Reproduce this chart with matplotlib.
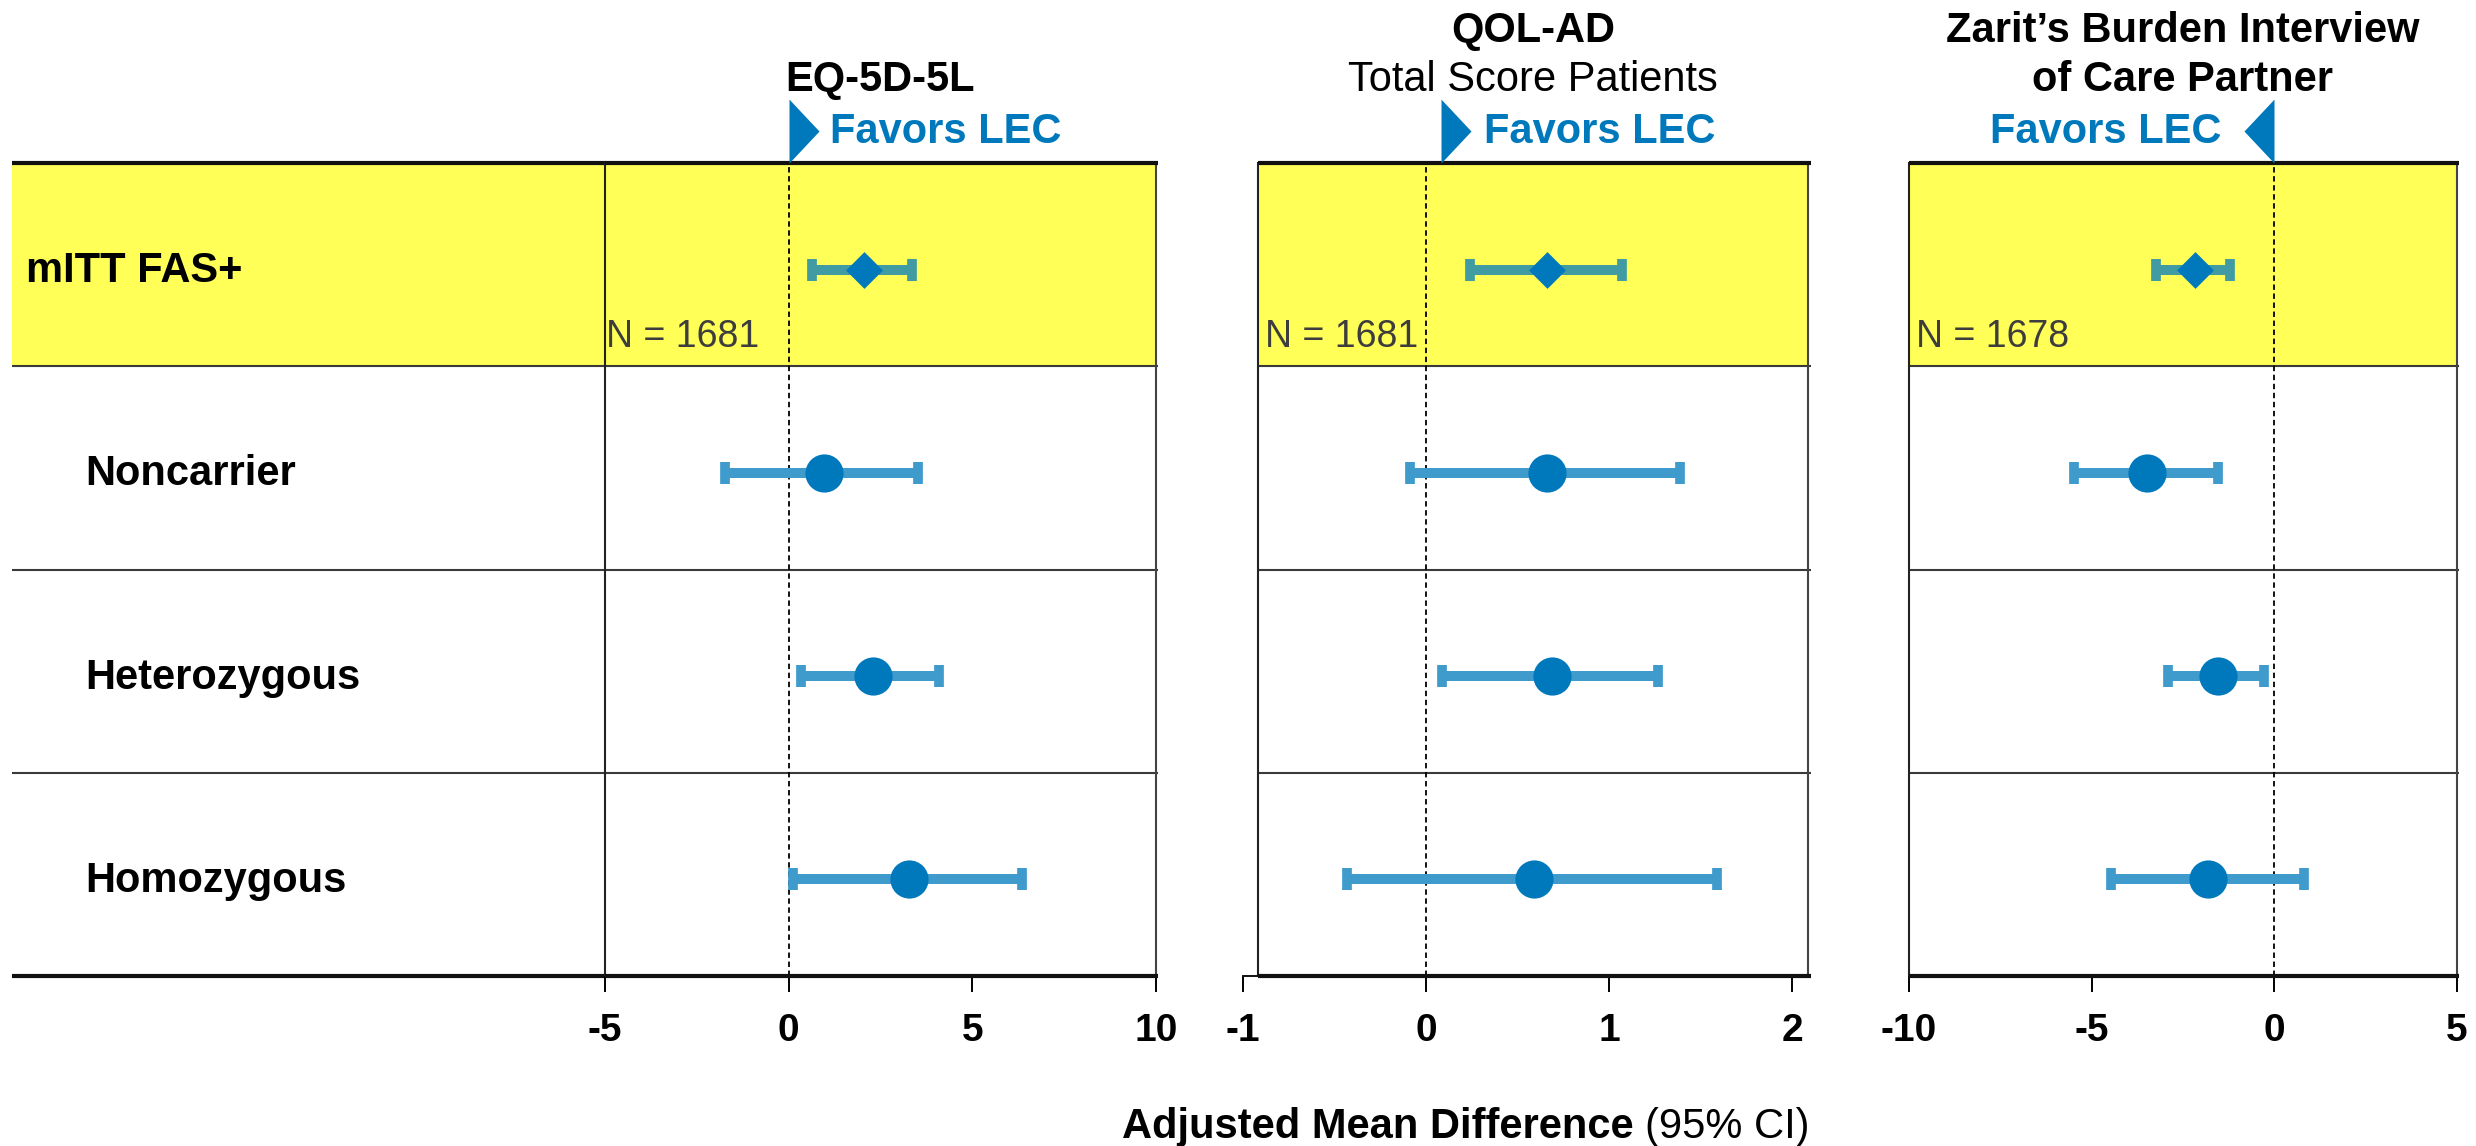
import matplotlib
matplotlib.use("Agg")
import matplotlib.pyplot as plt

plt.rcParams['font.family'] = ['Liberation Sans', 'DejaVu Sans']

# ---------------- data ----------------
row_labels = ["mITT FAS+", "Noncarrier", "Heterozygous", "Homozygous"]

eq_est = [2.05, 0.95, 2.30, 3.28]
eq_lo = [0.63, -1.72, 0.33, 0.11]
eq_hi = [3.35, 3.52, 4.10, 6.34]

qol_est = [0.66, 0.66, 0.69, 0.59]
qol_lo = [0.24, -0.09, 0.09, -0.43]
qol_hi = [1.07, 1.39, 1.27, 1.59]

zbi_est = [-2.18, -3.49, -1.53, -1.81]
zbi_lo = [-3.24, -5.47, -2.90, -4.48]
zbi_hi = [-1.21, -1.53, -0.27, 0.82]

n_labels = ["N = 1681", "N = 1681", "N = 1678"]

xticks = [[-5, 0, 5, 10], [-1, 0, 1, 2], [-10, -5, 0, 5]]
title_lines = [
    [("EQ-5D-5L", "bold")],
    [("QOL-AD", "bold"), ("Total Score Patients", "normal")],
    [("Zarit\u2019s Burden Interview", "bold"), ("of Care Partner", "bold")],
]
favors_label = "Favors LEC"
favors_dir = [1, 1, -1]
xlabel_bold = "Adjusted Mean Difference"
xlabel_normal = "(95% CI)"

# ---------------- style ----------------
BLUE = "#0079BC"
EB_WHITE = "#409BCD"
EB_YELLOW = "#409BA3"
YELLOW = "#FFFF57"
W, H = 2476, 1146

fig = plt.figure(figsize=(W / 100, H / 100), dpi=100)


def fx(px):
    return px / W


top_px, bot_px = 163, 976
ax_y0 = 1 - bot_px / H
ax_h = (bot_px - top_px) / H

panels = [
    dict(est=eq_est, lo=eq_lo, hi=eq_hi, xlim=(-5, 10), border=(-5, 10), px=(605, 1156),
         arrow_x=0.0, n_off=1, fav_off=30),
    dict(est=qol_est, lo=qol_lo, hi=qol_hi, xlim=(-1, 2.09), border=(-0.92, 2.09), px=(1243, 1808.5),
         arrow_x=0.08, n_off=7, fav_off=31),
    dict(est=zbi_est, lo=zbi_lo, hi=zbi_hi, xlim=(-10, 5), border=(-10, 5), px=(1909, 2457),
         arrow_x=0.0, n_off=7, fav_off=-38),
]

row_y = [3.5 - i for i in range(len(row_labels))]
mark_y = [y - 0.025 for y in row_y]

# ---------- label column ----------
axl = fig.add_axes([fx(12), ax_y0, fx(605) - fx(12), ax_h])
axl.set_xlim(0, 1)
axl.set_ylim(0, 4)
axl.axis("off")
axl.axhspan(3, 4, color=YELLOW, zorder=0, lw=0)
for yy in [1, 2, 3]:
    axl.plot([0, 1], [yy, yy], color="#3a3a3a", lw=1.5, clip_on=False, solid_capstyle="butt")
for yy in [0, 4]:
    axl.plot([0, 1], [yy, yy], color="#111111", lw=3, clip_on=False, solid_capstyle="butt")
for i, lab in enumerate(row_labels):
    xoff = 0.024 if i == 0 else 0.123
    axl.text(xoff, row_y[i] - 0.01, lab, fontsize=30, fontweight="bold", va="center_baseline",
             ha="left", color="black")

tri_right = [(0, 0), (0, 2), (0.94, 1), (0, 0)]
tri_left = [(0, 0), (0, 2), (-0.94, 1), (0, 0)]
diamond = [(0, 1), (1, 0), (0, -1), (-1, 0), (0, 1)]

for p_i, p in enumerate(panels):
    l_px, r_px = p["px"]
    ax = fig.add_axes([fx(l_px), ax_y0, (r_px - l_px) / W, ax_h])
    ax.set_xlim(*p["xlim"])
    ax.set_ylim(0, 4)
    for s in ax.spines.values():
        s.set_visible(False)
    ax.set_facecolor("none")
    xl, xr = p["border"]
    span = p["xlim"][1] - p["xlim"][0]
    fl = (xl - p["xlim"][0]) / span
    fr = (xr - p["xlim"][0]) / span
    ax.axhspan(3, 4, xmin=fl, xmax=fr, color=YELLOW, zorder=0, lw=0)
    ext = 0.004 * span
    for yy in [1, 2, 3]:
        ax.plot([xl, xr + ext], [yy, yy], color="#3a3a3a", lw=1.5, clip_on=False,
                solid_capstyle="butt", zorder=1)
    for yy in [0, 4]:
        ax.plot([xl, xr + ext], [yy, yy], color="#111111", lw=3, clip_on=False,
                solid_capstyle="butt", zorder=2)
    if p_i == 1:
        ax.plot([p["xlim"][0], xl], [0, 0], color="#111111", lw=1.4, clip_on=False)
    ax.plot([xl, xl], [0, 4], color="#222222", lw=1.5, clip_on=False, zorder=1)
    ax.plot([xr, xr], [0, 4], color="#444444", lw=1.5, clip_on=False, zorder=1)
    ax.axvline(0, color="black", lw=1.3, dashes=(3, 2), zorder=1)

    ax.set_yticks([])
    ax.set_xticks(xticks[p_i])
    ax.set_xticklabels([str(t) for t in xticks[p_i]], fontsize=28, fontweight="bold")
    ax.tick_params(axis="x", direction="out", length=11.5, width=1.4, pad=15, color="black")

    # error bars and markers
    for i in range(len(row_labels)):
        e, lo, hi = p["est"][i], p["lo"][i], p["hi"][i]
        col = EB_YELLOW if i == 0 else EB_WHITE
        ax.errorbar([e], [mark_y[i]], xerr=[[e - lo], [hi - e]], fmt="none", ecolor=col,
                    elinewidth=7.2, capsize=8.2, capthick=7.0, zorder=3)
    ax.plot(p["est"][1:], mark_y[1:], linestyle="none", marker="o", ms=27.5, color=BLUE,
            mew=0, zorder=4)
    ax.plot(p["est"][:1], mark_y[:1], linestyle="none", marker=diamond, ms=26.5, color=BLUE,
            mew=0, zorder=4)

    # N label
    ax.annotate(n_labels[p_i], xy=(xl, 3.162), xytext=(p["n_off"] * 0.72, 0),
                textcoords="offset points", fontsize=27, color="#3d3d3d",
                va="center_baseline", ha="left")

    # favors arrow + text
    d = favors_dir[p_i]
    ax.plot([p["arrow_x"]], [4], linestyle="none", marker=tri_right if d > 0 else tri_left,
            ms=92, color=BLUE, mew=0, clip_on=False, zorder=5)
    ax.annotate(favors_label, xy=(p["arrow_x"], 4), xytext=(p["fav_off"], 14.4),
                textcoords="offset points", fontsize=30, fontweight="bold", color=BLUE,
                va="baseline", ha="left" if d > 0 else "right", annotation_clip=False)

    # titles
    cx = (xl + xr) / 2
    lines = title_lines[p_i]
    offs = [51.5, 87.0]
    for k, (txt, wt) in enumerate(reversed(lines)):
        ax.annotate(txt, xy=(cx, 1), xycoords=("data", "axes fraction"),
                    xytext=(0, offs[k]), textcoords="offset points", fontsize=30,
                    fontweight=wt, ha="center", va="baseline", annotation_clip=False)

# x label (bold part + regular part)
t1 = fig.text(fx(1122), 1 - 1138 / H, xlabel_bold, fontsize=30, fontweight="bold",
              ha="left", va="baseline")
fig.canvas.draw()
bb = t1.get_window_extent()
fig.text((bb.x1 + 11.6) / W, 1 - 1138 / H, xlabel_normal, fontsize=30, ha="left",
         va="baseline")

fig.savefig("out.png", dpi=100, facecolor="white")
